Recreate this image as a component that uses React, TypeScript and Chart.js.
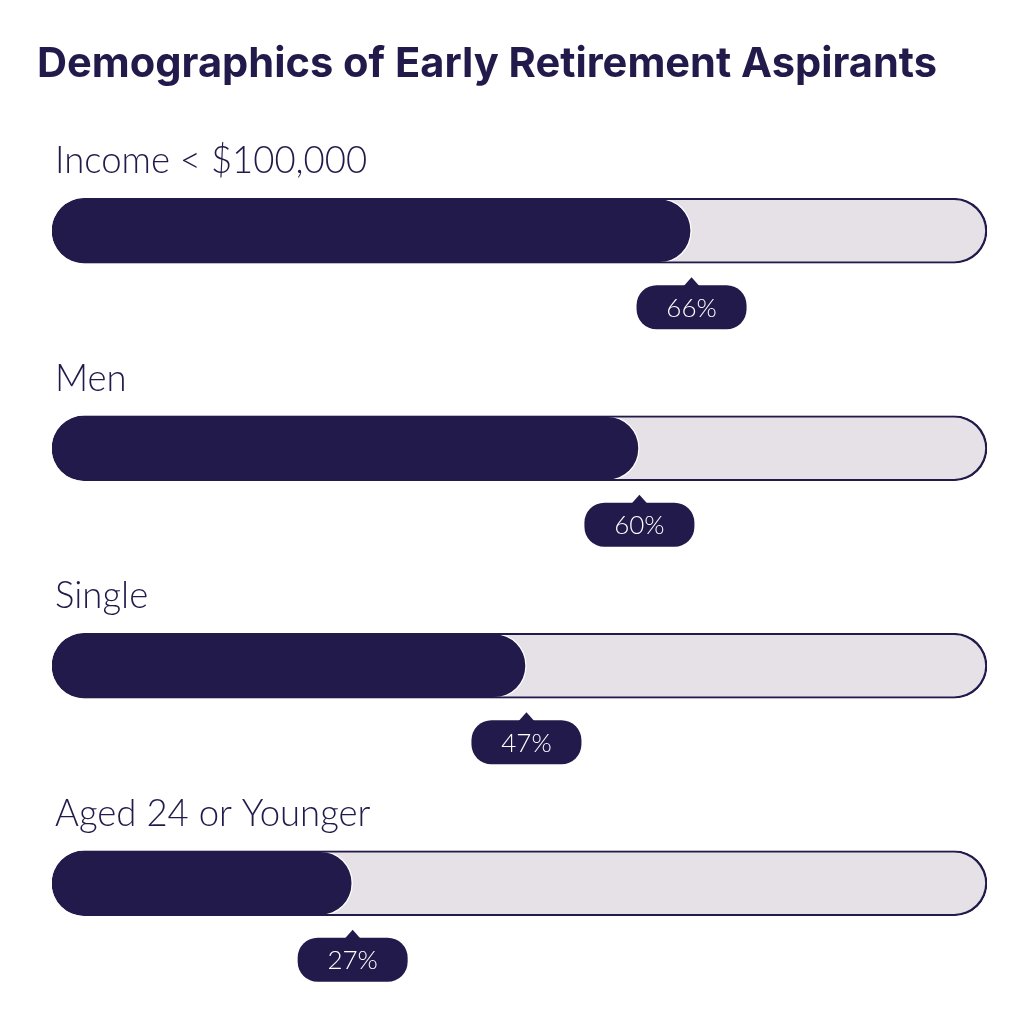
import React, { useEffect, useRef } from "react";
import { Chart, registerables, Plugin } from "chart.js";

Chart.register(...registerables);

const title = "Demographics of Early Retirement Aspirants";
const categories = ["Income < $100,000", "Men", "Single", "Aged 24 or Younger"];
const shares = [66, 60, 47, 27];
const trackMax = 100;
// the rounded bar cap sits left of zero, so the axis starts a bit below 0
const axisStart = -7.6;

const NAVY = "#211a4a";
const TRACK = "#e6e1e7";

const labelsPlugin: Plugin<"bar"> = {
  id: "progressLabels",
  afterDatasetsDraw(chart) {
    const { ctx } = chart;
    const meta = chart.getDatasetMeta(1);
    ctx.save();

    ctx.fillStyle = NAVY;
    ctx.textAlign = "left";
    ctx.textBaseline = "alphabetic";
    ctx.font = "700 41.6px Inter";
    ctx.fillText(title, 37, 77);

    meta.data.forEach((bar, i) => {
      const { x, y, height } = bar.getProps(["x", "y", "height"], true) as any;
      const top = y - height / 2;
      const bottom = y + height / 2;

      // category label above the bar
      ctx.fillStyle = NAVY;
      ctx.textAlign = "left";
      ctx.font = "300 36.5px Lato";
      ctx.fillText(categories[i], 55, top - 25);

      // value bubble under the end of the fill
      const w = 110;
      const h = 44;
      const bt = bottom + 22;
      ctx.beginPath();
      ctx.roundRect(x - w / 2, bt, w, h, 20);
      ctx.fill();
      ctx.beginPath();
      ctx.moveTo(x - 8, bt + 1);
      ctx.lineTo(x, bt - 8);
      ctx.lineTo(x + 8, bt + 1);
      ctx.closePath();
      ctx.fill();

      ctx.fillStyle = "#ffffff";
      ctx.textAlign = "center";
      ctx.textBaseline = "middle";
      ctx.font = "300 26px Lato";
      ctx.fillText(`${shares[i]}%`, x, bt + h / 2 + 1);
      ctx.textBaseline = "alphabetic";
    });

    ctx.restore();
  },
};

const ProgressChart: React.FC = () => {
  const canvasRef = useRef<HTMLCanvasElement>(null);

  useEffect(() => {
    if (!canvasRef.current) return;
    const ctx = canvasRef.current.getContext("2d")!;

    const chart = new Chart(ctx, {
      type: "bar",
      data: {
        labels: categories,
        datasets: [
          {
            // light track, drawn at the back
            data: categories.map(() => [axisStart, trackMax]) as any,
            backgroundColor: TRACK,
            borderWidth: 0,
            borderRadius: 40,
            borderSkipped: false,
            order: 3,
          },
          {
            data: shares.map((v) => [axisStart, v]) as any,
            backgroundColor: NAVY,
            borderColor: "#ffffff",
            borderWidth: 1.5,
            borderRadius: 40,
            borderSkipped: false,
            order: 2,
          },
          {
            // track outline on top
            data: categories.map(() => [axisStart, trackMax]) as any,
            backgroundColor: "rgba(0,0,0,0)",
            borderColor: NAVY,
            borderWidth: 1.5,
            borderRadius: 40,
            borderSkipped: false,
            order: 1,
          },
        ],
      },
      options: {
        indexAxis: "y",
        responsive: false,
        animation: false,
        layout: { padding: { left: 52, right: 37, top: 122, bottom: 41 } },
        datasets: { bar: { barThickness: 65, grouped: false } },
        scales: {
          x: { display: false, min: axisStart, max: trackMax },
          y: { display: false },
        },
        plugins: {
          legend: { display: false },
          tooltip: { enabled: false },
          title: { display: false },
        },
      },
      plugins: [labelsPlugin],
    });

    return () => {
      chart.destroy();
    };
  }, []);

  return <canvas ref={canvasRef} width={1024} height={1033}></canvas>;
};

export default function App() {
  return (
    <div style={{ position: "absolute", left: 0, top: 0, width: 1024, height: 1033, background: "#fff" }}>
      <ProgressChart />
    </div>
  );
}
